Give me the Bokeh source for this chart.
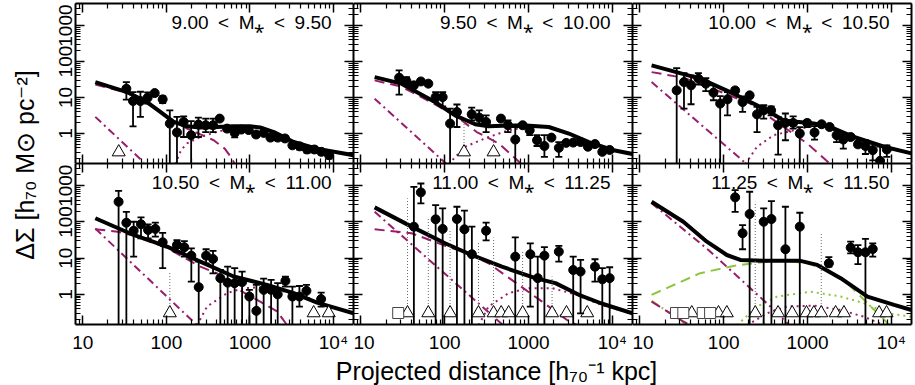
import math
from bokeh.plotting import figure
from bokeh.models import FixedTicker, CustomJSTickFormatter, Range1d, LogAxis, Label
from bokeh.layouts import row, column
from bokeh.embed import file_html
from bokeh.resources import INLINE

# ---------------- data ----------------
SP = "\u2002"
titles = [f"9.00{SP}<{SP}M\u204e{SP}<{SP}9.50", f"9.50{SP}<{SP}M\u204e{SP}<{SP}10.00",
          f"10.00{SP}<{SP}M\u204e{SP}<{SP}10.50", f"10.50{SP}<{SP}M\u204e{SP}<{SP}11.00",
          f"11.00{SP}<{SP}M\u204e{SP}<{SP}11.25", f"11.25{SP}<{SP}M\u204e{SP}<{SP}11.50"]

x_major = [10, 100, 1000, 10000]
y_major = [1, 10, 100, 1000]
NEG_LEVEL = 0.305

# panel 1
r1 = [33.2, 39.9, 48.9, 59.7, 72.5, 90.3, 110, 134, 161, 198, 242, 296, 362, 435, 533, 658, 790, 968,
      1186, 1462, 1762, 2155, 2633, 3228, 3945, 4840, 5920, 7180, 8870]
ds1 = [17.6, 8.0, 8.0, 9.9, 13.3, 8.9, 1.89, 1.07, 2.1, 0.90, 1.78, 1.70, 1.70, 2.6, 1.37, 1.04, 1.29, 1.25,
       0.94, 1.04, 0.77, 0.77, 0.73, 0.47, 0.44, 0.36, 0.36, 0.31, 0.25]
hi1 = [26.9, 14.2, 14.5, 14.0, 15.2, 11.0, 4.4, 2.9, 3.0, 2.2, 2.77, 2.6, 2.6, 2.9, 1.6, 1.37, 1.45, 1.4,
       1.1, 1.2, 0.9, 0.9, 0.85, 0.55, 0.52, 0.43, 0.43, 0.36, 0.30]
lo1 = [8.7, 1.59, 2.9, 6.8, 11.5, 7.0, 0.01, 0.01, 0.8, 0.01, 0.8, 1.1, 1.1, 2.3, 1.15, 0.78, 1.12, 1.1,
       0.8, 0.9, 0.65, 0.65, 0.62, 0.40, 0.36, 0.29, 0.30, 0.26, 0.20]
neg_r1 = [26.9]
neg_top1 = [None]
sq_r1 = []
tot1_r = [14.1, 20, 33.8, 58.6, 84.7, 122, 177, 255, 400, 640, 1000, 1330, 1940, 3340, 6300, 17400]
tot1 = [26.9, 20.8, 14.2, 7.5, 4.0, 2.1, 1.59, 1.47, 1.52, 1.59, 1.59, 1.47, 1.1, 0.58, 0.38, 0.25]
oh1_r = [14.1, 33.8, 58.6, 84.7, 122, 177, 255, 369, 500, 612, 660]
oh1 = [23, 13.5, 7.0, 4.0, 2.3, 1.37, 0.95, 0.65, 0.38, 0.2, 0.14]
st1_r = [14.1, 28.1, 53.5]
st1 = [2.9, 0.65, 0.16]
th1_r = [128, 150, 177, 255, 441, 770, 1330, 1940, 3340, 6300, 17400]
th1 = [0.14, 0.35, 0.53, 0.8, 1.18, 1.43, 1.42, 1.05, 0.56, 0.37, 0.245]

# panel 2
r2 = [28.6, 35.1, 42.9, 52, 63.8, 78, 94.6, 116, 140, 210, 258, 312, 469, 568, 695, 851, 1033, 1264,
      1547, 1876, 2300, 2815, 3414, 4180, 5116, 6210, 7590, 9290]
ds2 = [35.6, 28.1, 21.8, 28, 24.3, 10.3, 10.3, 1.89, 3.97, 3.43, 2.77, 2.1, 2.6, 1.7, 0.68, 1.7, 1.23, 0.65,
       0.45, 0.77, 0.40, 0.55, 0.56, 0.58, 0.43, 0.51, 0.31, 0.35]
hi2 = [56.7, 37, 25, 31, 27, 14.2, 14.2, 4.9, 6.4, 5.25, 4.4, 3.2, 3.0, 2.3, 1.52, 1.9, 1.7, 0.9,
       0.9, 0.87, 0.58, 0.62, 0.63, 0.65, 0.5, 0.58, 0.36, 0.4]
lo2 = [12, 22, 19, 24, 21, 7.5, 5.7, 0.01, 1.52, 2.3, 1.89, 1.1, 2.25, 1.1, 0.01, 1.5, 0.9, 0.45,
       0.225, 0.68, 0.225, 0.48, 0.5, 0.5, 0.38, 0.44, 0.27, 0.3]
neg_r2 = [170, 383]
neg_top2 = [2.3, 0.73]
sq_r2 = []
tot2_r = [14.6, 30.5, 76.6, 133, 231, 333, 836, 1746, 3027, 5250, 10000, 17400]
tot2 = [37, 24.3, 7.5, 3.2, 1.81, 1.59, 1.7, 1.52, 1.0, 0.58, 0.35, 0.27]
oh2_r = [14.6, 30.5, 76.6, 141, 241, 442, 832]
oh2 = [30, 20, 6.5, 2.9, 1.1, 0.53, 0.14]
st2_r = [14.6, 106]
st2 = [9.3, 0.14]
th2_r = [111, 175, 333, 579, 1000, 1746, 3027, 5250, 10000, 17400]
th2 = [0.14, 0.43, 0.8, 1.23, 1.55, 1.48, 0.98, 0.57, 0.345, 0.265]

# panel 3
r3 = [27.5, 33.6, 40.8, 49.9, 61.2, 75.5, 90.8, 111, 137, 168, 204, 250, 300, 368, 446, 545, 674, 809,
      991, 1213, 1472, 1835, 2224, 2674, 3273, 4000, 4910, 6000, 7340, 8830]
ds3 = [15.8, 26.9, 21.8, 33.4, 24.3, 13.7, 6.8, 8.9, 15.8, 7.5, 11.5, 3.4, 4.4, 4.4, 1.7, 1.97, 1.97, 1.0,
       1.97, 1.07, 1.81, 1.52, 0.9, 0.68, 0.8, 0.5, 0.45, 0.345, 0.174, 0.36]
hi3 = [65.6, 47.6, 41, 47.6, 34.6, 21.8, 11, 14.2, 18.5, 10.8, 13, 5.5, 6.1, 5.7, 2.9, 3.6, 3.0, 1.5,
       2.3, 1.6, 2.1, 1.8, 1.23, 0.94, 0.95, 0.6, 0.65, 0.53, 0.43, 0.47]
lo3 = [0.01, 4.9, 6.5, 23, 15, 8.4, 0.01, 3.2, 13.5, 4.0, 9.8, 1.1, 2.6, 3.2, 0.26, 0.65, 1.37, 0.01,
       1.52, 0.68, 1.55, 1.3, 0.58, 0.38, 0.68, 0.42, 0.27, 0.18, 0.01, 0.225]
neg_r3 = []
neg_top3 = []
sq_r3 = []
tot3_r = [13.8, 52.4, 131, 329, 520, 1190, 1885, 3590, 8200, 17400]
tot3 = [78, 33.4, 12.8, 4.4, 2.3, 1.89, 1.52, 0.8, 0.43, 0.28]
oh3_r = [13.8, 33, 83, 207, 520, 991, 1885]
oh3 = [50.8, 35.6, 15.8, 6.8, 1.52, 0.53, 0.14]
st3_r = [13.8, 189]
st3 = [26.9, 0.14]
th3_r = [181, 250, 395, 824, 1432, 1885, 3590, 8200, 17400]
th3 = [0.14, 0.43, 0.9, 1.37, 1.7, 1.5, 0.79, 0.42, 0.275]

# panel 4
r4 = [26.8, 33.2, 40.6, 49.7, 60.4, 73.8, 90.3, 134, 164, 199, 244, 299, 362, 443, 542, 657, 807, 986,
      1196, 1462, 1795, 2153, 2663, 3228, 3918, 4754, 7130]
ds4 = [360, 95, 57, 86, 60, 64, 27.4, 23.1, 20, 11.7, 1.58, 11.7, 9.5, 2.8, 2.1, 2.04, 2.17, 0.87,
       0.35, 1.33, 1.33, 1.0, 2.35, 0.87, 0.87, 1.25, 0.74]
hi4 = [720, 190, 101, 133, 86, 95, 50, 31.6, 29.6, 18.7, 8, 17.6, 15.8, 4.7, 5.8, 5.3, 4.25, 1.33,
       1.83, 2.7, 2.5, 2.04, 3.1, 1.64, 1.7, 1.83, 1.12]
lo4 = [0.01, 0.01, 11, 35, 35, 39, 5.3, 15, 11, 2.25, 0.01, 7.2, 3.8, 0.01, 0.01, 0.01, 0.01, 0.01,
       0.01, 0.01, 0.01, 0.01, 1.64, 0.01, 0.46, 0.79, 0.46]
neg_r4 = [110, 5800, 8790]
neg_top4 = [4.2, None, None]
sq_r4 = []
tot4_r = [14.1, 40.6, 102, 255, 640, 1607, 3350, 6380, 17400]
tot4 = [126, 43.6, 20.7, 8.0, 3.1, 1.83, 1.08, 0.59, 0.30]
oh4_r = [14.1, 26.2, 40.6, 102, 255, 405, 640, 1112, 2120, 2790]
oh4 = [62.5, 53.7, 42, 19, 5.8, 3.8, 1.6, 0.79, 0.34, 0.14]
st4_r = [14.1, 233]
st4 = [66, 0.14]
th4_r = [233, 307, 533, 843, 1607, 2790, 6380, 17400]
th4 = [0.14, 0.46, 1.08, 1.48, 1.6, 1.15, 0.58, 0.295]

# panel 5
r5 = [42.9, 52, 78, 94.6, 140, 172, 211, 312, 695, 1051, 1288, 1547, 2300, 3414, 4180, 6210, 7590, 9290]
ds5 = [73.8, 653, 118, 64, 120, 62.5, 12.8, 57, 11, 12.8, 2.8, 11.7, 15.1, 4.7, 4.25, 5.8, 2.6, 2.8]
hi5 = [930, 1150, 292, 237, 262, 204, 74, 95, 37.6, 25.7, 11, 20, 21.7, 11, 8.9, 9.3, 5.3, 5.6]
lo5 = [0.01, 325, 0.01, 0.01, 0.01, 0.01, 0.01, 31, 0.01, 0.46, 0.01, 0.01, 8, 0.01, 0.3, 2.25, 0.01, 0.01]
neg_r5 = [36, 63.8, 116, 253, 383, 472, 579, 851, 1910, 2838, 5020]
neg_top5 = [446, 133, 60, 28.5, 37, None, None, 16, 3.1, None, None]
sq_r5 = [27.9]
tot5_r = [14.6, 40.3, 101, 210, 482, 1208, 2094, 3990, 7590, 17400]
tot5 = [252, 74, 25.7, 12.2, 5.8, 2.8, 2.04, 0.97, 0.55, 0.30]
oh5_r = [14.6, 40.3, 101, 191, 333, 764, 1452, 3027, 3900]
oh5 = [62.5, 48.5, 22, 13.6, 7.2, 1.83, 0.63, 0.18, 0.14]
st5_r = [14.6, 500]
st5 = [191, 0.14]
th5_r = [254, 333, 579, 1005, 1910, 3630, 7590, 17400]
th5 = [0.14, 0.46, 1.08, 1.48, 1.48, 1.0, 0.5, 0.29]

# panel 6
r6 = [137, 168, 204, 300, 371, 545, 809, 1798, 3273, 4000, 4910, 6000]
ds6 = [476, 48.5, 165, 101, 120, 17.6, 74, 7.2, 19.5, 14.5, 14.5, 17.9]
hi6 = [755, 82, 680, 237, 375, 262, 179, 10.6, 28.5, 23, 34, 25.7]
lo6 = [190, 17.6, 0.01, 0.01, 0.01, 0.01, 0.01, 5.8, 13.6, 6.8, 0.01, 11]
neg_r6 = [41.6, 86.7, 109, 238, 445, 656, 973, 1190, 1459, 2163, 2722, 7150, 8770]
neg_top6 = [None, None, None, 360, None, None, None, None, 50, None, None, None, None]
sq_r6 = [27, 33, 56.3, 68.9]
tot6_r = [13.8, 33, 63, 109, 158, 329, 824, 1306, 2485, 5190, 10800, 17400]
tot6 = [360, 101, 28.5, 12.2, 8.9, 8.4, 8.4, 6.5, 2.8, 0.87, 0.51, 0.37]
oh6_r = [13.8, 33, 40]
oh6 = [0.63, 0.178, 0.14]
st6_r = [13.8, 65.8, 344, 610]
st6 = [330, 16.8, 0.51, 0.14]
th6_r = [190, 329, 571, 1190, 2485, 4730, 8200]
th6 = [0.14, 0.30, 0.46, 0.49, 0.37, 0.24, 0.14]
g_dash6_r = [13.8, 52.4, 131, 329, 571, 991, 1722, 2986, 5190, 8200, 9500]
g_dash6 = [0.97, 3.84, 6.1, 8.0, 8.4, 7.2, 4.7, 2.04, 0.57, 0.2, 0.14]
g_dot6_r = [144, 250, 434, 1087, 2485, 4730, 9000, 17400]
g_dot6 = [0.14, 0.46, 0.87, 1.19, 0.87, 0.57, 0.3, 0.24]
g_dd6_r = [13.8, 30, 36]
g_dd6 = [0.66, 0.2, 0.14]

panels = [
    dict(r=r1, ds=ds1, hi=hi1, lo=lo1, neg_r=neg_r1, neg_top=neg_top1, sq_r=sq_r1,
         tot=(tot1_r, tot1), oh=(oh1_r, oh1), st=(st1_r, st1), th=(th1_r, th1)),
    dict(r=r2, ds=ds2, hi=hi2, lo=lo2, neg_r=neg_r2, neg_top=neg_top2, sq_r=sq_r2,
         tot=(tot2_r, tot2), oh=(oh2_r, oh2), st=(st2_r, st2), th=(th2_r, th2)),
    dict(r=r3, ds=ds3, hi=hi3, lo=lo3, neg_r=neg_r3, neg_top=neg_top3, sq_r=sq_r3,
         tot=(tot3_r, tot3), oh=(oh3_r, oh3), st=(st3_r, st3), th=(th3_r, th3)),
    dict(r=r4, ds=ds4, hi=hi4, lo=lo4, neg_r=neg_r4, neg_top=neg_top4, sq_r=sq_r4,
         tot=(tot4_r, tot4), oh=(oh4_r, oh4), st=(st4_r, st4), th=(th4_r, th4)),
    dict(r=r5, ds=ds5, hi=hi5, lo=lo5, neg_r=neg_r5, neg_top=neg_top5, sq_r=sq_r5,
         tot=(tot5_r, tot5), oh=(oh5_r, oh5), st=(st5_r, st5), th=(th5_r, th5)),
    dict(r=r6, ds=ds6, hi=hi6, lo=lo6, neg_r=neg_r6, neg_top=neg_top6, sq_r=sq_r6,
         tot=(tot6_r, tot6), oh=(oh6_r, oh6), st=(st6_r, st6), th=(th6_r, th6),
         green=[((g_dot6_r, g_dot6), "2 4"), ((g_dd6_r, g_dd6), "8 4 2 4"), ((g_dash6_r, g_dash6), "10 6")]),
]

YLABEL = "\u0394\u03a3 [h\u2087\u2080 M\u2299 pc\u207b\u00b2]"
XLABEL = "Projected distance [h\u2087\u2080\u207b\u00b9 kpc]"

# ---------------- style / layout ----------------
FONT = "Liberation Sans"
PURPLE = "#9a1c6c"
GREEN = "#8cc63f"
X_RANGE = (8.17, 17400)
Y_RANGE = (0.147, 4100)
FW = [278, 279, 279]
FH = [160, 161]
LAB_W = 48
LEFT_B = 27
TOP_B = 3
BOT_B = 32
XLAB_H = 385 - TOP_B - FH[0] - FH[1] - BOT_B

x_minor = [m * d for d in (1, 10, 100, 1000) for m in range(2, 10)]
y_minor = [m * d for d in (0.1, 1, 10, 100, 1000) for m in range(2, 10)]

FMT = CustomJSTickFormatter(code="return tick > 9999 ? '10\u2074' : String(Math.round(tick));")


def make_axis(dim, labelled):
    ticker = FixedTicker(ticks=x_major if dim == 0 else y_major,
                         minor_ticks=x_minor if dim == 0 else y_minor)
    ax = LogAxis(ticker=ticker, formatter=FMT, axis_label=None, axis_label_standoff=0,
                 major_tick_in=9, major_tick_out=0, minor_tick_in=5, minor_tick_out=0,
                 axis_line_width=2, axis_line_color="black",
                 major_tick_line_width=1.5, minor_tick_line_width=1.2,
                 major_tick_line_color="black", minor_tick_line_color="black")
    if labelled:
        ax.major_label_text_font = FONT
        ax.major_label_text_font_size = "19px"
        ax.major_label_text_color = "black"
        ax.major_label_standoff = 7 if dim == 0 else 3
        if dim == 1:
            ax.major_label_orientation = "vertical"
    else:
        ax.major_label_text_font_size = "0px"
        ax.major_label_text_color = None
        ax.major_label_standoff = 0
    return ax


def bare_figure(**kw):
    return figure(title=None, toolbar_location=None, output_backend="svg",
                  outline_line_color=None, **kw)


figs = []
for i, d in enumerate(panels):
    rowi, col = divmod(i, 3)
    p = bare_figure(x_axis_type="log", y_axis_type="log",
                    x_range=Range1d(*X_RANGE), y_range=Range1d(*Y_RANGE),
                    frame_width=FW[col], frame_height=FH[rowi],
                    min_border_left=LEFT_B if col == 0 else 0,
                    min_border_right=2 if col == 2 else 0,
                    min_border_top=TOP_B if rowi == 0 else 0,
                    min_border_bottom=BOT_B if rowi == 1 else 0,
                    x_axis_location=None, y_axis_location=None,
                    background_fill_color="white", border_fill_color="white")
    p.xgrid.visible = False
    p.ygrid.visible = False

    p.add_layout(make_axis(1, col == 0), "left")
    p.add_layout(make_axis(1, False), "right")
    p.add_layout(make_axis(0, False), "above")
    p.add_layout(make_axis(0, rowi == 1), "below")

    # model curves
    if "green" in d:
        for (gx, gy), dash in d["green"]:
            p.line(gx, gy, line_color=GREEN, line_width=2, line_dash=dash)
    p.line(*d["th"], line_color=PURPLE, line_width=2, line_dash="2 4")
    p.line(*d["st"], line_color=PURPLE, line_width=2, line_dash="8 4 2 4")
    p.line(*d["oh"], line_color=PURPLE, line_width=2, line_dash="10 6")
    p.line(*d["tot"], line_color="black", line_width=4)

    # negative points: dotted error bars and open symbols
    seg_x = [x for x, t in zip(d["neg_r"], d["neg_top"]) if t is not None]
    seg_t = [t for t in d["neg_top"] if t is not None]
    if seg_x:
        p.segment(x0=seg_x, y0=[NEG_LEVEL] * len(seg_x), x1=seg_x, y1=seg_t,
                  line_color="#666666", line_width=1, line_dash="1 2")
    if d["neg_r"]:
        p.scatter(d["neg_r"], [NEG_LEVEL] * len(d["neg_r"]), marker="triangle", size=13,
                  fill_color="white", line_color="black", line_width=1)
    if d["sq_r"]:
        p.scatter(d["sq_r"], [NEG_LEVEL] * len(d["sq_r"]), marker="square", size=11,
                  fill_color="white", line_color="#444444", line_width=1)

    # measured points with error bars
    p.segment(x0=d["r"], y0=d["lo"], x1=d["r"], y1=d["hi"], line_color="black", line_width=1.8)
    p.scatter(d["r"], d["hi"], marker="dash", size=7, line_color="black", line_width=1.8)
    p.scatter(d["r"], d["lo"], marker="dash", size=7, line_color="black", line_width=1.8)
    p.scatter(d["r"], d["ds"], marker="circle", size=9, fill_color="black", line_color="black")

    p.add_layout(Label(x=9500, y=2380, text=titles[i], text_align="right", text_baseline="top",
                       text_font=FONT, text_font_size="19px", text_color="black"))
    figs.append(p)

# shared y label (left strip)
ylab_h = TOP_B + FH[0] + FH[1]
ylab = bare_figure(width=LAB_W, height=ylab_h, x_range=(0, LAB_W), y_range=(0, ylab_h), min_border=0,
                   x_axis_location=None, y_axis_location=None)
ylab.xgrid.visible = False
ylab.ygrid.visible = False
ylab.add_layout(Label(x=24, y=ylab_h - 167, text=YLABEL, angle=math.pi / 2, text_align="center",
                      text_baseline="middle", text_font=FONT, text_font_size="25px",
                      text_color="black"))

# shared x label (bottom strip)
xlab_w = LEFT_B + sum(FW) + 2
xlab = bare_figure(width=xlab_w, height=XLAB_H, x_range=(0, xlab_w), y_range=(0, XLAB_H), min_border=0,
                   x_axis_location=None, y_axis_location=None)
xlab.xgrid.visible = False
xlab.ygrid.visible = False
xlab.add_layout(Label(x=496 - LAB_W, y=XLAB_H, text=XLABEL, text_align="center",
                      text_baseline="top", text_font=FONT, text_font_size="25px",
                      text_color="black"))

layout = row(ylab, column(row(*figs[:3]), row(*figs[3:]), xlab))

with open("out.html", "w", encoding="utf-8") as f:
    f.write(file_html(layout, INLINE))
